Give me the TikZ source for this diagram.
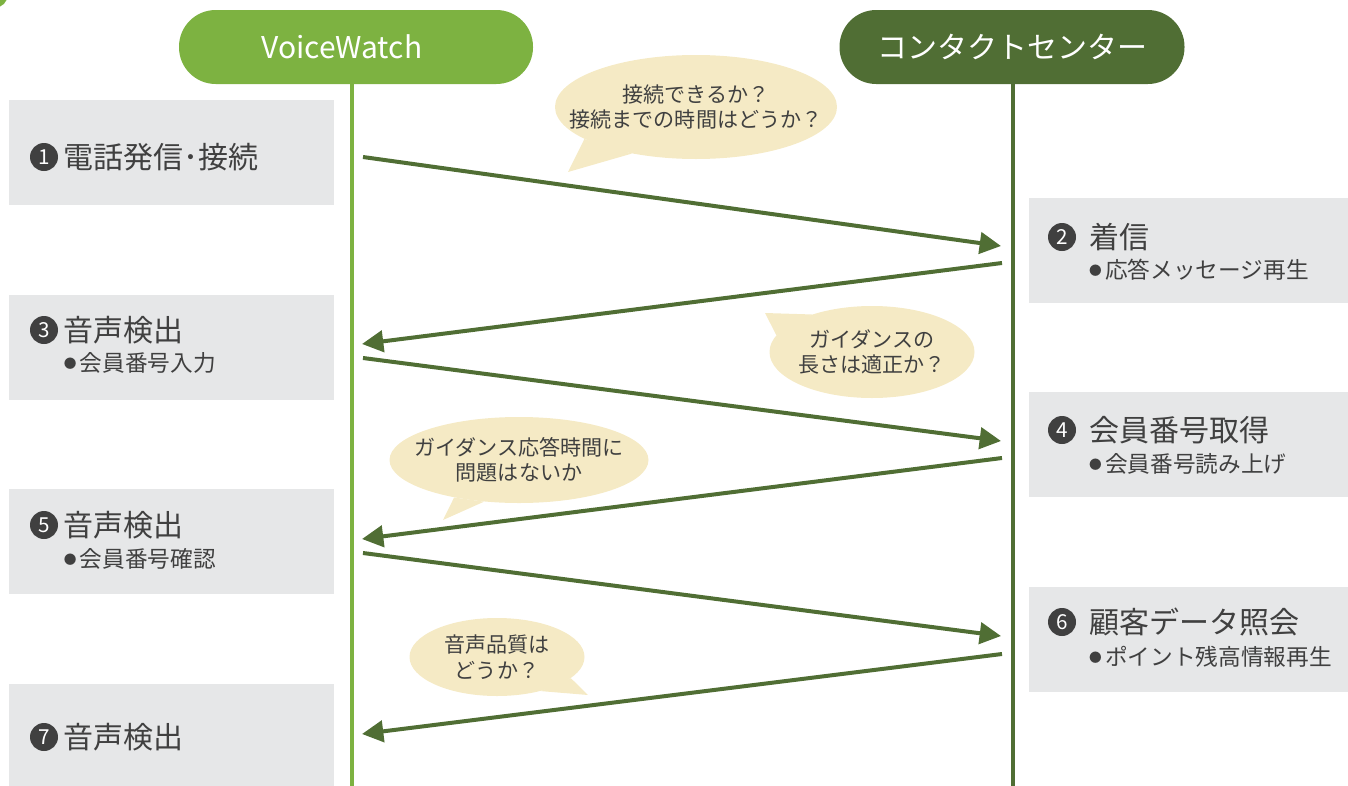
\documentclass[tikz,border=0pt]{standalone}
\usepackage{fontspec}
\setmainfont{Noto Sans CJK JP}
\usetikzlibrary{positioning, arrows.meta, shapes.geometric}

\definecolor{vwgreen}{RGB}{125,178,65}
\definecolor{ccgreen}{RGB}{80,110,52}
\definecolor{boxgray}{RGB}{230,231,232}
\definecolor{cream}{RGB}{245,234,197}
\definecolor{inkgray}{RGB}{64,64,64}

\newcommand{\bul}{\raisebox{2.6pt}{\fontsize{9.5}{9}\selectfont ●}\hspace{2.5pt}}

\begin{document}
\begin{tikzpicture}[x=0.75pt, y=-0.75pt,
	header/.style={rounded corners=27.5pt, minimum height=55.5pt, text=white, font=\fontsize{22.5}{26}\selectfont},
	stepbox/.style={fill=boxgray, anchor=north west, minimum height=78.75pt},
	num/.style={circle, fill=inkgray, text=white, inner sep=0pt, minimum size=21pt, font=\fontsize{15.5}{16}\selectfont},
	title/.style={inner sep=0pt, text=inkgray, font=\fontsize{22.5}{26}\selectfont},
	detail/.style={inner sep=0pt, anchor=west, text=inkgray, font=\fontsize{17}{20}\selectfont},
	balloon/.style={ellipse, fill=cream, inner sep=0pt},
	note/.style={align=center, inner sep=0pt, text=inkgray, font=\fontsize{15.8}{19}\selectfont},
	lifeline/.style={line width=3pt},
	signal/.style={draw=ccgreen, line width=3pt, -{Triangle[length=16pt, width=16pt]}},
	]
	\useasboundingbox (0,0) rectangle (1348,785);
	\fill[vwgreen] (-6,-6) circle [radius=10.5pt];
	
	\node[stepbox, minimum width=243.75pt] (s1) at (9,100) {};
	\node[stepbox, minimum width=243.75pt] (s3) at (9,295) {};
	\node[stepbox, minimum width=243.75pt] (s5) at (9,489) {};
	\node[stepbox, minimum width=243.75pt] (s7) at (9,684) {};
	\node[stepbox, minimum width=239.25pt] (s2) at (1029,198) {};
	\node[stepbox, minimum width=239.25pt] (s4) at (1029,392) {};
	\node[stepbox, minimum width=239.25pt] (s6) at (1029,587) {};
	
	\node[header, fill=vwgreen, minimum width=265.5pt] (vw) at (356,47) {\hspace*{-21pt}VoiceWatch};
	\node[header, fill=ccgreen, minimum width=258.75pt] (cc) at (1012,47) {コンタクトセンター};
	
	\coordinate (vwtop) at (352,84);
	\coordinate (vwbot) at (352,790);
	\coordinate (cctop) at (1013,84);
	\coordinate (ccbot) at (1013,790);
	\draw[lifeline, vwgreen] (vwtop) -- (vwbot);
	\draw[lifeline, ccgreen] (cctop) -- (ccbot);
	
	\node[num] (n1) at (44,157) {1};
	\node[title, right=4pt of n1] (t1) {電話発信･接続};
	\node[num] (n2) at (1062,237) {2};
	\node[title, right=9.5pt of n2] (t2) {着信};
	\node[detail] (d2) at (t2.west |- 0,270) {\bul 応答メッセージ再生};
	\node[num] (n3) at (44,330) {3};
	\node[title, right=4pt of n3] (t3) {音声検出};
	\node[detail] (d3) at (t3.west |- 0,363) {\bul 会員番号入力};
	\node[num] (n4) at (1062,430) {4};
	\node[title, right=9.5pt of n4] (t4) {会員番号取得};
	\node[detail] (d4) at (t4.west |- 0,464) {\bul 会員番号読み上げ};
	\node[num] (n5) at (44,525) {5};
	\node[title, right=4pt of n5] (t5) {音声検出};
	\node[detail] (d5) at (t5.west |- 0,559) {\bul 会員番号確認};
	\node[num] (n6) at (1062,622) {6};
	\node[title, right=9.5pt of n6] (t6) {顧客データ照会};
	\node[detail] (d6) at (t6.west |- 0,657) {\bul ポイント残高情報再生};
	\node[num] (n7) at (44,737) {7};
	\node[title, right=4pt of n7] (t7) {音声検出};
	
	\node[balloon, minimum width=211.5pt, minimum height=78pt] (b1) at (696,107) {};
	\fill[cream] (b1.196) -- (568,172) -- (b1.216) -- cycle;
	\node[note] at (b1) {接続できるか？\\接続までの時間はどうか？};
	\node[balloon, minimum width=153.75pt, minimum height=69pt] (b2) at (872,352) {};
	\fill[cream] (b2.148) -- (765,313) -- (b2.170) -- cycle;
	\node[note] at (b2) {ガイダンスの\\長さは適正か？};
	\node[balloon, minimum width=194.25pt, minimum height=64.5pt] (b3) at (519,460) {};
	\fill[cream] (b3.210) -- (443,520) -- (b3.230) -- cycle;
	\node[note] at (b3) {ガイダンス応答時間に\\問題はないか};
	\node[balloon, minimum width=131.25pt, minimum height=58.5pt] (b4) at (497,657) {};
	\fill[cream] (b4.322) -- (588,695) -- (b4.344) -- cycle;
	\node[note] at (b4) {音声品質は\\どうか？};
	
	\coordinate (l1) at (363,157);
	\coordinate (r1) at (1001,246);
	\coordinate (r2) at (1002,263);
	\coordinate (l2) at (362,344);
	\coordinate (l3) at (363,358);
	\coordinate (r3) at (1001,441);
	\coordinate (r4) at (1002,458);
	\coordinate (l4) at (362,539);
	\coordinate (l5) at (363,553);
	\coordinate (r5) at (1001,636);
	\coordinate (r6) at (1002,654);
	\coordinate (l6) at (362,734);
	\draw[signal] (l1) -- (r1);
	\draw[signal] (r2) -- (l2);
	\draw[signal] (l3) -- (r3);
	\draw[signal] (r4) -- (l4);
	\draw[signal] (l5) -- (r5);
	\draw[signal] (r6) -- (l6);
\end{tikzpicture}
\end{document}
